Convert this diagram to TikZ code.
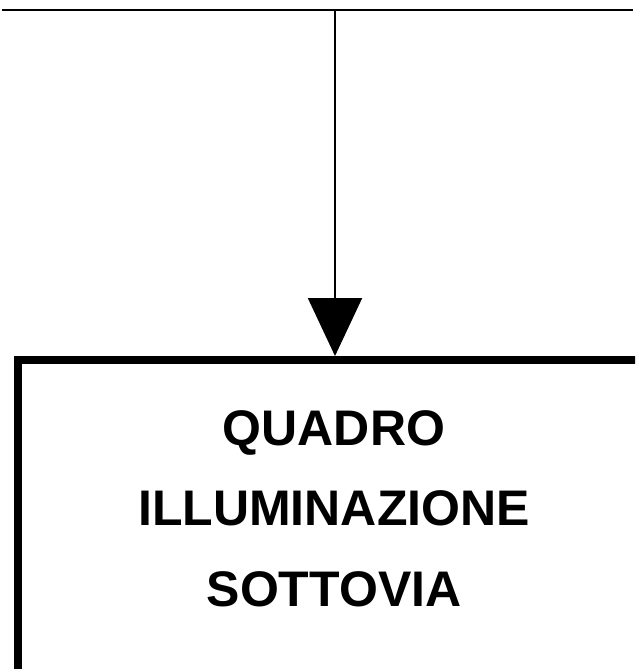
\documentclass[tikz,border=0pt]{standalone}
\usepackage{fontspec}
\setmainfont{Liberation Sans}
\usetikzlibrary{arrows.meta}
\tikzset{
  wire/.style={line width=2pt, line cap=rect},
  feed/.style={line width=2pt, -{Triangle[width=54pt,length=58pt]}},
  panel/.style={line width=8pt, line join=miter},
  caption/.style={font=\fontsize{50}{80.5}\selectfont\bfseries, align=center, inner sep=0pt}
}
\begin{document}
\begin{tikzpicture}[x=1pt,y=-1pt]
\useasboundingbox (0,0) rectangle (635,669);
\clip (0,0) rectangle (635,669);
\coordinate (busL) at (3,10);
\coordinate (busR) at (632,10);
\coordinate (tap) at (335,10);
\coordinate (boxtop) at (335,356);
\draw[wire] (busL) -- (busR);
\draw[feed] (tap) -- (boxtop);
\draw[panel] (700,360) -- (18,360) -- (18,720);
\node[caption] (label) at (334,508.5) {QUADRO\\ILLUMINAZIONE\\SOTTOVIA};
\end{tikzpicture}
\end{document}
